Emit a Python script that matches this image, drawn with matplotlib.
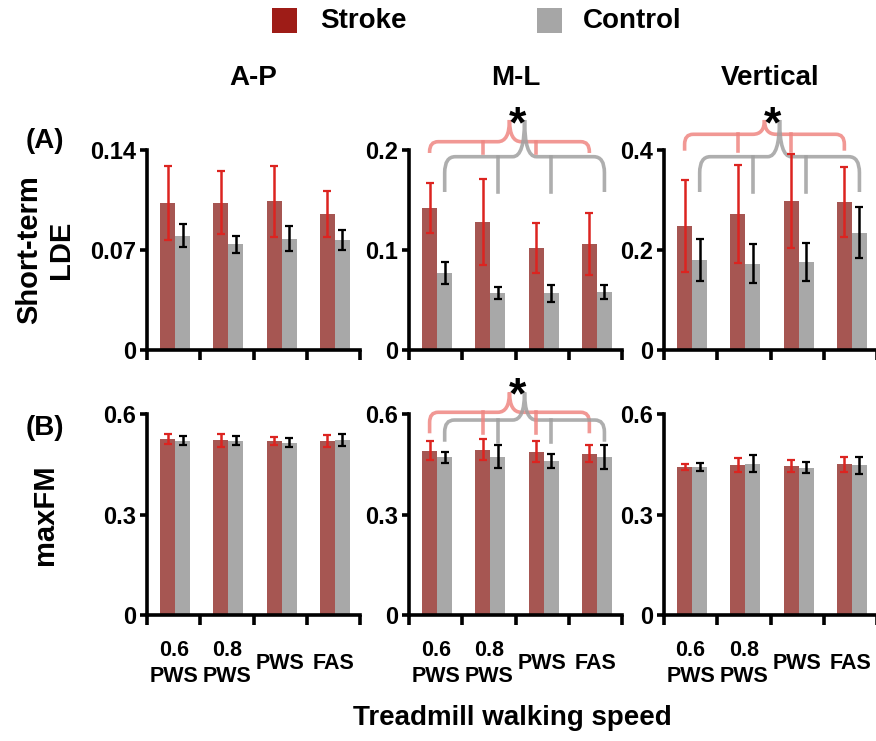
import matplotlib.pyplot as plt
import matplotlib.transforms as mtransforms
from matplotlib.path import Path
from matplotlib.patches import PathPatch, Rectangle
from matplotlib.lines import Line2D
import numpy as np

plt.rcParams['font.family'] = ['Liberation Sans', 'DejaVu Sans']
plt.rcParams['font.weight'] = 'bold'

# ---------- data ----------
speeds = ['0.6\nPWS', '0.8\nPWS', 'PWS', 'FAS']
directions = ['A-P', 'M-L', 'Vertical']

# (A) short-term LDE, mean and SD
lde_ap_stroke = [0.103, 0.103, 0.104, 0.095]
lde_ap_stroke_sd = [0.026, 0.022, 0.025, 0.016]
lde_ap_control = [0.080, 0.074, 0.078, 0.077]
lde_ap_control_sd = [0.008, 0.006, 0.009, 0.007]
lde_ml_stroke = [0.142, 0.128, 0.102, 0.106]
lde_ml_stroke_sd = [0.025, 0.043, 0.025, 0.031]
lde_ml_control = [0.077, 0.057, 0.057, 0.058]
lde_ml_control_sd = [0.011, 0.006, 0.0085, 0.007]
lde_vt_stroke = [0.248, 0.272, 0.298, 0.296]
lde_vt_stroke_sd = [0.092, 0.098, 0.094, 0.070]
lde_vt_control = [0.181, 0.173, 0.177, 0.235]
lde_vt_control_sd = [0.042, 0.039, 0.038, 0.051]

# (B) maxFM, mean and SD
fm_ap_stroke = [0.525, 0.521, 0.519, 0.519]
fm_ap_stroke_sd = [0.016, 0.020, 0.0125, 0.018]
fm_ap_control = [0.520, 0.520, 0.514, 0.522]
fm_ap_control_sd = [0.014, 0.013, 0.0135, 0.019]
fm_ml_stroke = [0.490, 0.494, 0.488, 0.482]
fm_ml_stroke_sd = [0.028, 0.031, 0.030, 0.024]
fm_ml_control = [0.471, 0.473, 0.460, 0.471]
fm_ml_control_sd = [0.016, 0.035, 0.020, 0.035]
fm_vt_stroke = [0.4415, 0.4475, 0.4445, 0.450]
fm_vt_stroke_sd = [0.010, 0.022, 0.017, 0.023]
fm_vt_control = [0.4405, 0.4515, 0.4395, 0.4465]
fm_vt_control_sd = [0.012, 0.025, 0.016, 0.025]

lde_ticks = [[0, 0.07, 0.14], [0, 0.1, 0.2], [0, 0.2, 0.4]]
lde_ticklabels = [['0', '0.07', '0.14'], ['0', '0.1', '0.2'], ['0', '0.2', '0.4']]
fm_ticks = [0, 0.3, 0.6]
fm_ticklabels = ['0', '0.3', '0.6']

STROKE = '#A65652'
CONTROL = '#A8A8A8'
STROKE_ERR = '#DC2420'
BR_RED = '#EF8682'
BR_GRAY = '#A0A0A0'

W, H = 876, 741
fig = plt.figure(figsize=(W / 100, H / 100), dpi=100)

lefts = [147, 409, 664]
ax_w = 213
rows = [(150, 350), (414, 615)]  # pixel top/bottom


def make_ax(px_left, top, bottom):
    return fig.add_axes([px_left / W, 1 - bottom / H, ax_w / W, (bottom - top) / H])


idx = np.arange(4)
bw = 0.283
x_s = idx + 0.387
x_c = idx + 0.670


def draw_bars(ax, s, s_sd, c, c_sd, ymax, ticks, labels, bottom_row):
    ax.bar(x_s, s, width=bw, color=STROKE, linewidth=0)
    ax.bar(x_c, c, width=bw, color=CONTROL, linewidth=0)
    ax.errorbar(x_s, s, yerr=s_sd, fmt='none', ecolor=STROKE_ERR, elinewidth=1.8,
                capsize=2.8, capthick=1.6, clip_on=False)
    ax.errorbar(x_c, c, yerr=c_sd, fmt='none', ecolor='black', elinewidth=1.8,
                capsize=2.8, capthick=1.6, clip_on=False)
    ax.set_xlim(0, 4)
    ax.set_ylim(0, ymax)
    ax.set_xticks([0, 1, 2, 3, 4])
    ax.set_xticklabels([])
    ax.set_yticks(ticks)
    ax.set_yticklabels(labels, fontsize=17, fontweight='bold')
    for sp in ['top', 'right']:
        ax.spines[sp].set_visible(False)
    for sp in ['left', 'bottom']:
        ax.spines[sp].set_linewidth(2.6)
    ax.tick_params(axis='x', direction='out', length=7, width=2.6)
    ax.tick_params(axis='y', direction='out', length=5, width=2.6, pad=3)
    if bottom_row:
        tr = mtransforms.blended_transform_factory(ax.transData, ax.transAxes)
        for i, lab in enumerate(speeds):
            ax.text(idx[i] + 0.5, -0.24, lab, transform=tr,
                    ha='center', va='center', fontsize=15.5, fontweight='bold',
                    multialignment='center', linespacing=1.3)


def brace(ax, xs, y_line, y_end, y_peak, color, r=0.16, ry=0.05):
    tr = mtransforms.blended_transform_factory(ax.transData, ax.transAxes)
    x0, x1 = xs[0], xs[-1]
    xp = (x0 + x1) / 2
    w = 0.22
    verts = [(x0, y_end), (x0, y_line - ry), (x0, y_line), (x0 + r, y_line),
             (xp - w, y_line), (xp, y_line), (xp, y_peak),
             (xp, y_line), (xp + w, y_line),
             (x1 - r, y_line), (x1, y_line), (x1, y_line - ry), (x1, y_end)]
    codes = [Path.MOVETO, Path.LINETO, Path.CURVE3, Path.CURVE3,
             Path.LINETO, Path.CURVE3, Path.CURVE3,
             Path.CURVE3, Path.CURVE3,
             Path.LINETO, Path.CURVE3, Path.CURVE3, Path.LINETO]
    ax.add_patch(PathPatch(Path(verts, codes), transform=tr, facecolor='none',
                           edgecolor=color, lw=2.6, alpha=0.85, clip_on=False))
    for xm in xs[1:-1]:
        ax.add_line(Line2D([xm, xm], [y_line, y_end], transform=tr, color=color,
                           lw=2.6, alpha=0.85, clip_on=False))


def star(ax, y):
    tr = mtransforms.blended_transform_factory(ax.transData, ax.transAxes)
    ax.text(2.04, y, '*', transform=tr, ha='center', va='baseline', fontsize=32,
            fontweight='bold')


lde_data = [(lde_ap_stroke, lde_ap_stroke_sd, lde_ap_control, lde_ap_control_sd),
            (lde_ml_stroke, lde_ml_stroke_sd, lde_ml_control, lde_ml_control_sd),
            (lde_vt_stroke, lde_vt_stroke_sd, lde_vt_control, lde_vt_control_sd)]
fm_data = [(fm_ap_stroke, fm_ap_stroke_sd, fm_ap_control, fm_ap_control_sd),
           (fm_ml_stroke, fm_ml_stroke_sd, fm_ml_control, fm_ml_control_sd),
           (fm_vt_stroke, fm_vt_stroke_sd, fm_vt_control, fm_vt_control_sd)]

top_axes, bot_axes = [], []
for j in range(3):
    ax = make_ax(lefts[j], *rows[0])
    draw_bars(ax, *lde_data[j], lde_ticks[j][-1], lde_ticks[j], lde_ticklabels[j], False)
    top_axes.append(ax)
    ax = make_ax(lefts[j], *rows[1])
    draw_bars(ax, *fm_data[j], fm_ticks[-1], fm_ticks, fm_ticklabels, True)
    bot_axes.append(ax)

# significance braces (stroke = red, control = gray)
brace(top_axes[1], x_s, 1.0415, 0.985, 1.15, BR_RED)
brace(top_axes[1], x_c, 0.9665, 0.79, 1.15, BR_GRAY, r=0.2, ry=0.08)
star(top_axes[1], 1.065)
brace(top_axes[2], x_s, 1.0785, 0.9965, 1.15, BR_RED)
brace(top_axes[2], x_c, 0.9665, 0.79, 1.15, BR_GRAY, r=0.2, ry=0.08)
star(top_axes[2], 1.065)
brace(bot_axes[1], x_s, 1.0085, 0.904, 1.108, BR_RED)
brace(bot_axes[1], x_c, 0.970, 0.862, 1.108, BR_GRAY, r=0.18, ry=0.06)
star(bot_axes[1], 1.03)

# column titles
for j, name in enumerate(directions):
    fig.text((lefts[j] + ax_w / 2) / W, 1 - 78 / H, name, ha='center', va='center',
             fontsize=20, fontweight='bold')

# legend
fig.patches.append(Rectangle((272 / W, 1 - 33 / H), 25 / W, 25 / H, transform=fig.transFigure,
                             facecolor='#9E1C17', edgecolor='none'))
fig.text(320 / W, 1 - 21 / H, 'Stroke', ha='left', va='center', fontsize=20, fontweight='bold')
fig.patches.append(Rectangle((537 / W, 1 - 33 / H), 25 / W, 25 / H, transform=fig.transFigure,
                             facecolor='#A6A6A6', edgecolor='none'))
fig.text(583 / W, 1 - 21 / H, 'Control', ha='left', va='center', fontsize=20, fontweight='bold')

# panel labels and axis labels
fig.text(45 / W, 1 - 141 / H, '(A)', ha='center', va='center', fontsize=20, fontweight='bold')
fig.text(45 / W, 1 - 428 / H, '(B)', ha='center', va='center', fontsize=20, fontweight='bold')
fig.text(45 / W, 1 - 250 / H, 'Short-term\nLDE', rotation=90, ha='center', va='center',
         fontsize=21, fontweight='bold', multialignment='center', linespacing=1.15)
fig.text(45 / W, 1 - 515 / H, 'maxFM', rotation=90, ha='center', va='center',
         fontsize=21, fontweight='bold')
fig.text(512 / W, 1 - 718 / H, 'Treadmill walking speed', ha='center', va='center',
         fontsize=20, fontweight='bold')

fig.savefig('out.png', dpi=100)
